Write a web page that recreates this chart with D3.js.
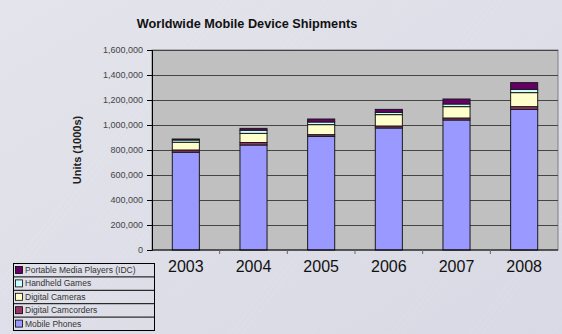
<!DOCTYPE html>
<html>
<head>
<meta charset="utf-8">
<script src="https://cdn.jsdelivr.net/npm/d3@7"></script>
<style>
  html, body { margin: 0; padding: 0; }
  body { width: 562px; height: 334px; overflow: hidden; }
</style>
</head>
<body>
<div id="chart"></div>
<script>
// values in thousands of units
const years = ["2003", "2004", "2005", "2006", "2007", "2008"];
const mobilePhones = [782000, 840000, 909000, 976000, 1040000, 1125000];
const digitalCamcorders = [18000, 20000, 14000, 16000, 16000, 22000];
const digitalCameras = [62000, 73000, 80000, 91000, 91000, 112000];
const handheldGames = [18000, 25000, 21000, 18000, 21000, 26000];
const mediaPlayers = [8000, 15000, 24000, 24000, 40000, 54000];
const yTicks = [0, 200000, 400000, 600000, 800000, 1000000, 1200000, 1400000, 1600000];

const series = [
  { name: "Mobile Phones", values: mobilePhones, color: "#9999ff" },
  { name: "Digital Camcorders", values: digitalCamcorders, color: "#993366" },
  { name: "Digital Cameras", values: digitalCameras, color: "#ffffcc" },
  { name: "Handheld Games", values: handheldGames, color: "#ccffff" },
  { name: "Portable Media Players (IDC)", values: mediaPlayers, color: "#660066" },
];

const width = 562, height = 334;
const plot = { left: 152, right: 558, top: 50, bottom: 250 };

const svg = d3.select("#chart").append("svg")
  .attr("width", width)
  .attr("height", height);

// slide-ish background with faint diagonal streaks
const defs = svg.append("defs");
const bg = defs.append("linearGradient").attr("id", "bg")
  .attr("x1", 0).attr("y1", 0).attr("x2", 1).attr("y2", 1);
bg.append("stop").attr("offset", 0).attr("stop-color", "#e4e4ec");
bg.append("stop").attr("offset", 1).attr("stop-color", "#d8d9e4");
svg.append("rect").attr("width", width).attr("height", height).attr("fill", "url(#bg)");

const streaks = svg.append("g").attr("stroke", "#ffffff").attr("fill", "none");
[[-40, 0.35], [10, 0.25], [60, 0.3], [140, 0.2], [230, 0.3], [300, 0.2], [390, 0.25], [470, 0.3], [540, 0.2]]
  .forEach(([x0, op]) => {
    for (let k = 0; k < 3; k++) {
      streaks.append("line")
        .attr("x1", x0 + k * 6).attr("y1", height)
        .attr("x2", x0 + k * 6 + 260).attr("y2", 0)
        .attr("stroke-opacity", op * 0.5)
        .attr("stroke-width", 0.8);
    }
  });

const x = d3.scaleBand()
  .domain(years)
  .range([plot.left, plot.right])
  .paddingInner(0.6)
  .paddingOuter(0.3);

const y = d3.scaleLinear()
  .domain([0, 1600000])
  .range([plot.bottom, plot.top]);

// plot area
svg.append("rect")
  .attr("x", plot.left).attr("y", plot.top)
  .attr("width", plot.right - plot.left).attr("height", plot.bottom - plot.top)
  .attr("fill", "#c0c0c0")
  .attr("stroke", "#808080")
  .attr("stroke-width", 1);

// gridlines
svg.append("g")
  .selectAll("line")
  .data(yTicks.slice(1))
  .join("line")
  .attr("x1", plot.left).attr("x2", plot.right)
  .attr("y1", d => y(d) + 0.5).attr("y2", d => y(d) + 0.5)
  .attr("stroke", "#454545")
  .attr("stroke-width", 1);

// stacked bars
const rows = years.map((yr, i) => {
  const r = { year: yr };
  series.forEach(s => { r[s.name] = s.values[i]; });
  return r;
});
const stack = d3.stack().keys(series.map(s => s.name))(rows);

svg.append("g")
  .selectAll("g")
  .data(stack)
  .join("g")
  .attr("fill", (d, i) => series[i].color)
  .selectAll("rect")
  .data(d => d)
  .join("rect")
  .attr("x", d => x(d.data.year))
  .attr("y", d => y(d[1]))
  .attr("width", x.bandwidth())
  .attr("height", d => y(d[0]) - y(d[1]))
  .attr("stroke", "#1a1a1a")
  .attr("stroke-width", 1);

// y axis
const yAxis = svg.append("g")
  .attr("transform", `translate(${plot.left},0)`)
  .call(d3.axisLeft(y).tickValues(yTicks).tickSize(5).tickPadding(4)
    .tickFormat(d3.format(",")));
yAxis.select(".domain").attr("stroke", "#000");
yAxis.selectAll(".tick line").attr("stroke", "#000");
yAxis.selectAll("text")
  .attr("font-family", "Arial, 'Liberation Sans', sans-serif")
  .attr("font-size", 9)
  .attr("fill", "#444");

// x axis: ticks sit between categories
const xAxis = svg.append("g")
  .attr("transform", `translate(0,${plot.bottom})`);
xAxis.append("line")
  .attr("x1", plot.left).attr("x2", plot.right)
  .attr("stroke", "#000");
xAxis.selectAll("line.tk")
  .data(years.slice(1))
  .join("line")
  .attr("class", "tk")
  .attr("x1", d => x(d) - x.step() * x.paddingInner() / 2)
  .attr("x2", d => x(d) - x.step() * x.paddingInner() / 2)
  .attr("y1", 0).attr("y2", 4)
  .attr("stroke", "#666");
xAxis.selectAll("text")
  .data(years)
  .join("text")
  .attr("x", d => x(d) + x.bandwidth() / 2)
  .attr("y", 22)
  .attr("text-anchor", "middle")
  .attr("font-family", "Arial, 'Liberation Sans', sans-serif")
  .attr("font-size", 16)
  .attr("fill", "#111")
  .text(d => d);

// title and y label
svg.append("text")
  .attr("x", 247).attr("y", 28)
  .attr("text-anchor", "middle")
  .attr("font-family", "Arial, 'Liberation Sans', sans-serif")
  .attr("font-size", 12.7)
  .attr("font-weight", "bold")
  .attr("fill", "#111")
  .text("Worldwide Mobile Device Shipments");

svg.append("text")
  .attr("transform", `translate(81,${(plot.top + plot.bottom) / 2}) rotate(-90)`)
  .attr("text-anchor", "middle")
  .attr("font-family", "Arial, 'Liberation Sans', sans-serif")
  .attr("font-size", 11)
  .attr("font-weight", "bold")
  .attr("fill", "#222")
  .text("Units (1000s)");

// legend (top to bottom reverses the stack)
const legendItems = series.slice().reverse();
const lg = { x: 13, y: 263, w: 141, rowH: 13.4 };
const legend = svg.append("g");
legend.append("rect")
  .attr("x", lg.x + 0.5).attr("y", lg.y + 0.5)
  .attr("width", lg.w).attr("height", lg.rowH * legendItems.length)
  .attr("fill", "none").attr("stroke", "#000");
const rowsG = legend.selectAll("g")
  .data(legendItems)
  .join("g")
  .attr("transform", (d, i) => `translate(${lg.x},${lg.y + i * lg.rowH})`);
rowsG.filter((d, i) => i > 0).append("line")
  .attr("x1", 0).attr("x2", lg.w)
  .attr("y1", 0.5).attr("y2", 0.5)
  .attr("stroke", "#000");
rowsG.append("rect")
  .attr("x", 2.5).attr("y", 3.5)
  .attr("width", 7).attr("height", 7)
  .attr("fill", d => d.color)
  .attr("stroke", "#000").attr("stroke-width", 0.8);
rowsG.append("text")
  .attr("x", 12).attr("y", 10)
  .attr("font-family", "Arial, 'Liberation Sans', sans-serif")
  .attr("font-size", 8.5)
  .attr("fill", "#333")
  .text(d => d.name);
</script>
</body>
</html>
